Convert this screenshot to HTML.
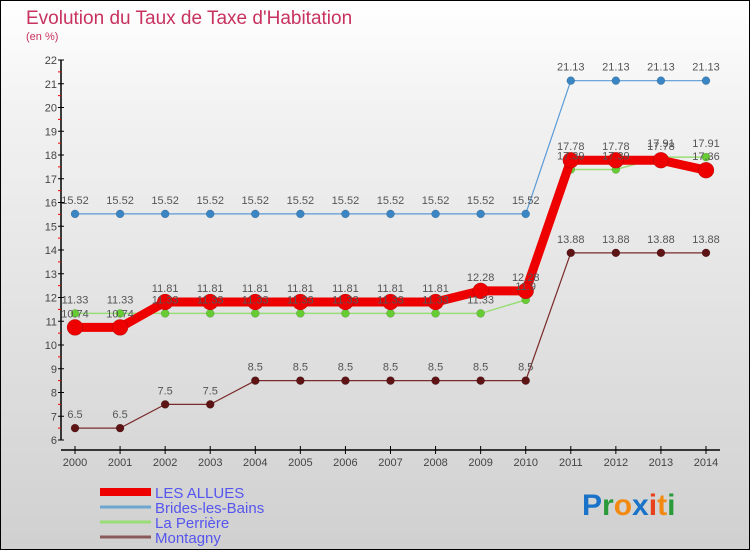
<!DOCTYPE html>
<html><head><meta charset="utf-8"><style>
html,body{margin:0;padding:0}
body{width:750px;height:550px;overflow:hidden;font-family:"Liberation Sans",sans-serif}
#wrap{position:relative;width:748px;height:548px;border:1px solid #000;background:linear-gradient(#ffffff,#f2f2f2 20%,#d0d0d0)}
svg text{font-family:"Liberation Sans",sans-serif}
</style></head><body>
<div id="wrap">
<svg id="c" width="748" height="548" viewBox="1 1 748 548" xmlns="http://www.w3.org/2000/svg">
<text x="26" y="24" font-size="19" fill="#c8325f">Evolution du Taux de Taxe d'Habitation</text>
<text x="26" y="40" font-size="11" fill="#c8325f">(en %)</text>
<g id="axes"></g>
<g id="series"></g>
<g id="legend"></g>
<text x="582" y="515" font-size="30" font-family="Liberation Sans" font-weight="bold"><tspan fill="#1a73c8">P</tspan><tspan fill="#2a9a3a">r</tspan><tspan fill="#f28a12">o</tspan><tspan fill="#1a73c8">x</tspan><tspan fill="#e8401a">i</tspan><tspan fill="#f28a12">t</tspan><tspan fill="#2a9a3a">i</tspan></text>
</svg>
</div>
<script>
const years=[2000,2001,2002,2003,2004,2005,2006,2007,2008,2009,2010,2011,2012,2013,2014];
const yTicks=[6,7,8,9,10,11,12,13,14,15,16,17,18,19,20,21,22];
const allues=[10.74,10.74,11.81,11.81,11.81,11.81,11.81,11.81,11.81,12.28,12.28,17.78,17.78,17.78,17.36];
const brides=[15.52,15.52,15.52,15.52,15.52,15.52,15.52,15.52,15.52,15.52,15.52,21.13,21.13,21.13,21.13];
const perriere=[11.33,11.33,11.33,11.33,11.33,11.33,11.33,11.33,11.33,11.33,11.9,17.39,17.39,17.91,17.91];
const montagny=[6.5,6.5,7.5,7.5,8.5,8.5,8.5,8.5,8.5,8.5,8.5,13.88,13.88,13.88,13.88];
const NS="http://www.w3.org/2000/svg";
const X=i=>75+i*(706-75)/(years.length-1);
const Y=v=>440-(v-6)*(440-60)/16;
function mk(tag,attrs,parent,txt){const e=document.createElementNS(NS,tag);for(const k in attrs)e.setAttribute(k,attrs[k]);if(txt!==undefined)e.textContent=txt;parent.appendChild(e);return e;}
const ax=document.getElementById('axes');
const yl=mk('line',{x1:61,y1:60,x2:61,y2:440,stroke:'#000','stroke-width':1.5},ax);


const xl=mk('line',{x1:61,y1:450,x2:720,y2:450,stroke:'#000','stroke-width':1.5},ax);


yTicks.forEach((t,i)=>{
  mk('line',{x1:58,y1:Y(t),x2:64,y2:Y(t),stroke:'#000'},ax);
  if(i<yTicks.length-1)mk('line',{x1:58,y1:Y(t+0.5),x2:61,y2:Y(t+0.5),stroke:'#e00'},ax);
  const tl=mk('text',{x:57,y:Y(t)+4,'font-size':11,fill:'#444','text-anchor':'end'},ax,String(t));
  
  
});
years.forEach((yr,i)=>{
  mk('line',{x1:X(i),y1:446,x2:X(i),y2:454,stroke:'#000'},ax);
  const tl=mk('text',{x:X(i),y:466,'font-size':11,fill:'#444','text-anchor':'middle'},ax,String(yr));
  
  
});
const sg=document.getElementById('series');
function series(vals,color,w,r,name,dotColor){
  const g=mk('g',{},sg);
  
  
  const pts=vals.map((v,i)=>X(i)+','+Y(v)).join(' ');
  mk('polyline',{points:pts,fill:'none',stroke:color,'stroke-width':w,'stroke-linejoin':'round'},g);
  vals.forEach((v,i)=>{
    const c=mk('circle',{cx:X(i),cy:Y(v),r:r,fill:dotColor,stroke:'rgba(0,0,0,0.25)','stroke-width':0.5},g);
    
    
  });
  return g;
}
function labels(vals,name){
  const g=mk('g',{},sg);
  
  
  vals.forEach((v,i)=>mk('text',{x:X(i),y:Y(v)-10,'font-size':11,fill:'#555','text-anchor':'middle'},g,String(v)));
}
series(montagny,'#7a2a2a',1.2,4,'montagny','#5e1414');
series(perriere,'#99dd77',1.5,4,'la-perriere','#66cc33');
series(brides,'#5b9bd5',1.2,4,'brides-les-bains','#3a85c4');
series(allues,'#ee0000',9,8,'les-allues','#ee0000');
labels(montagny,'montagny');labels(perriere,'la-perriere');labels(brides,'brides-les-bains');labels(allues,'les-allues');
const lg=document.getElementById('legend');
const items=[['LES ALLUES','#ee0000',8],['Brides-les-Bains','#6ea6d0',3],['La Perrière','#99dd77',3],['Montagny','#8a5a5a',3]];
items.forEach((it,i)=>{
  const y=492+i*15;
  const g=mk('g',{},lg);
  
  
  mk('line',{x1:100,y1:y,x2:151,y2:y,stroke:it[1],'stroke-width':it[2]},g);
  mk('text',{x:155,y:y+6,'font-size':15,fill:'#5555ee'},g,it[0]);
});
</script>
</body></html>
